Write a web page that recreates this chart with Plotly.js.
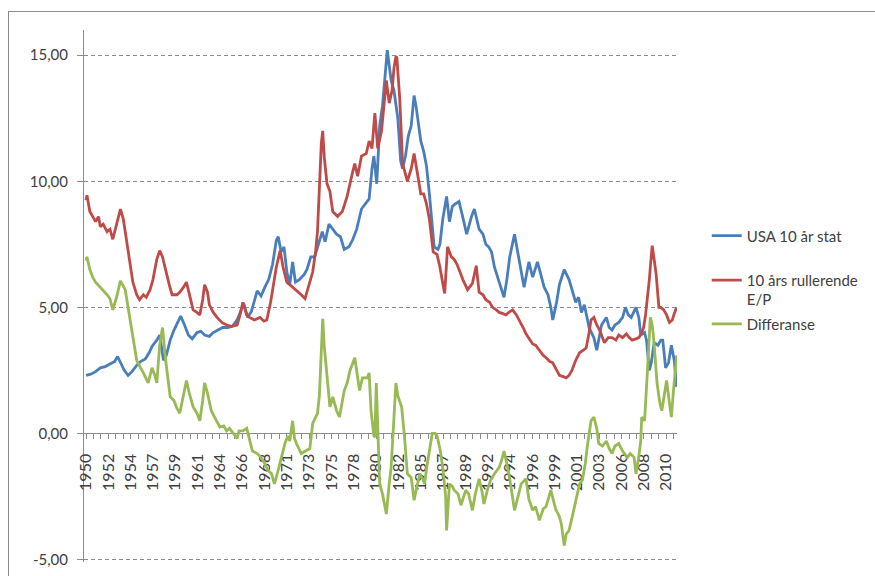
<!DOCTYPE html>
<html>
<head>
<meta charset="utf-8">
<script src="https://cdn.plot.ly/plotly-3.0.1.min.js"></script>
<style>
  html, body { margin: 0; padding: 0; background: #fff; }
  #wrap { position: relative; width: 875px; height: 576px; overflow: hidden; }
  #chart { position: absolute; left: 0; top: 0; width: 875px; height: 576px; }
  #frame { position: absolute; left: 8px; top: 11px; width: 900px; height: 600px;
           border: 1px solid #8c8c8c; box-sizing: border-box; pointer-events: none; }
</style>
</head>
<body>
<div id="wrap">
  <div id="chart"></div>
  <div id="frame"></div>
</div>
<script>
// ---- Data ----
const seriesNames = ["USA 10 år stat", "10 års rullerende<br>E/P", "Differanse"];

const usaYears = [1950.0,1950.5,1951.0,1951.5,1952.0,1952.5,1953.0,1953.3,1953.6,1954.0,1954.4,1954.8,1955.3,1955.7,1956.2,1956.6,1956.9,1957.4,1957.7,1957.9,1958.1,1958.4,1958.8,1959.2,1959.6,1959.9,1960.3,1960.7,1961.1,1961.6,1962.0,1962.4,1962.9,1963.3,1963.8,1964.3,1964.8,1965.3,1965.8,1966.2,1966.5,1966.9,1967.3,1967.9,1968.3,1968.7,1969.1,1969.5,1969.9,1970.1,1970.4,1970.7,1971.0,1971.3,1971.6,1971.9,1972.3,1972.8,1973.1,1973.5,1973.9,1974.3,1974.7,1975.0,1975.4,1975.8,1976.2,1976.6,1977.0,1977.5,1977.9,1978.3,1978.8,1979.2,1979.6,1979.9,1980.1,1980.4,1980.7,1981.0,1981.2,1981.5,1981.7,1981.9,1982.2,1982.6,1982.9,1983.1,1983.4,1983.7,1984.0,1984.3,1984.5,1984.8,1985.0,1985.3,1985.6,1985.9,1986.1,1986.4,1986.8,1987.0,1987.3,1987.7,1988.0,1988.3,1988.6,1989.0,1989.5,1989.8,1990.3,1990.6,1991.1,1991.5,1991.8,1992.1,1992.4,1992.7,1993.2,1993.7,1994.0,1994.3,1994.8,1995.3,1995.8,1996.3,1996.7,1997.2,1997.9,1998.3,1998.6,1998.8,1999.2,1999.5,2000.0,2000.5,2000.9,2001.2,2001.5,2001.8,2002.1,2002.6,2003.1,2003.4,2003.9,2004.4,2004.7,2005.0,2005.3,2005.7,2006.1,2006.4,2006.7,2007.0,2007.5,2007.8,2008.0,2008.4,2008.6,2008.9,2009.1,2009.4,2009.8,2010.1,2010.3,2010.6,2010.9,2011.2,2011.5,2011.75];
const usaValues = [2.30,2.35,2.45,2.60,2.65,2.75,2.85,3.05,2.80,2.50,2.30,2.45,2.70,2.85,2.95,3.20,3.45,3.70,3.90,3.30,2.90,3.10,3.70,4.10,4.45,4.65,4.30,3.90,3.75,4.00,4.05,3.90,3.85,4.00,4.10,4.20,4.20,4.25,4.50,4.85,5.15,4.60,4.85,5.65,5.45,5.80,6.10,6.70,7.65,7.80,7.20,7.40,6.40,5.90,6.80,6.00,6.10,6.30,6.50,7.00,7.00,7.50,8.00,7.60,8.30,8.10,7.90,7.80,7.30,7.40,7.70,8.10,8.90,9.10,9.30,10.50,11.00,9.90,12.20,13.00,13.80,15.20,14.60,14.00,13.60,12.50,10.80,10.50,11.00,11.80,12.20,13.40,13.00,12.20,11.60,11.20,10.60,9.50,8.60,7.40,7.30,7.50,8.50,9.40,8.40,9.00,9.10,9.20,8.40,7.90,8.60,8.90,8.10,7.90,7.50,7.40,7.20,6.60,6.00,5.40,6.10,7.00,7.90,6.90,5.80,6.80,6.20,6.80,5.80,5.50,5.00,4.50,5.20,5.90,6.50,6.10,5.60,5.20,5.40,4.80,5.10,4.20,3.80,3.30,4.30,4.60,4.20,4.10,4.30,4.40,4.60,5.00,4.70,4.60,5.00,4.60,3.90,4.00,3.70,2.50,2.80,3.60,3.50,3.70,3.70,2.60,2.80,3.50,2.90,1.85];

const epYears = [1950.0,1950.1,1950.4,1950.7,1951.0,1951.3,1951.5,1951.8,1952.2,1952.5,1952.8,1953.2,1953.6,1953.9,1954.1,1954.5,1954.9,1955.3,1955.6,1956.0,1956.3,1956.7,1957.0,1957.4,1957.7,1958.0,1958.3,1958.7,1959.0,1959.5,1959.8,1960.2,1960.5,1960.8,1961.2,1961.6,1961.9,1962.2,1962.4,1962.7,1962.9,1963.3,1963.7,1964.2,1964.7,1965.2,1965.8,1966.1,1966.4,1966.8,1967.1,1967.6,1968.2,1968.6,1968.9,1969.3,1969.5,1969.9,1970.3,1970.6,1971.0,1971.3,1971.6,1972.0,1972.5,1972.9,1973.3,1973.7,1974.0,1974.2,1974.5,1974.6,1974.75,1974.9,1975.2,1975.5,1975.8,1976.3,1976.8,1977.3,1977.9,1978.1,1978.4,1978.8,1979.3,1979.6,1979.9,1980.2,1980.5,1980.9,1981.2,1981.4,1981.7,1982.0,1982.2,1982.4,1982.5,1982.8,1983.1,1983.6,1984.0,1984.3,1984.7,1985.0,1985.3,1985.6,1985.9,1986.1,1986.3,1986.7,1987.0,1987.3,1987.5,1987.8,1988.2,1988.5,1988.8,1989.1,1989.4,1989.9,1990.4,1990.8,1991.1,1991.5,1991.8,1992.2,1992.5,1992.9,1993.2,1993.6,1993.9,1994.2,1994.6,1995.0,1995.3,1995.7,1996.0,1996.4,1996.7,1997.0,1997.4,1997.8,1998.1,1998.5,1998.8,1999.2,1999.5,1999.9,2000.2,2000.5,2000.8,2001.2,2001.6,2002.0,2002.3,2002.6,2002.8,2003.1,2003.4,2003.7,2004.2,2004.6,2005.0,2005.4,2005.7,2006.1,2006.5,2006.8,2007.1,2007.5,2007.8,2008.1,2008.3,2008.5,2008.7,2008.9,2009.0,2009.2,2009.4,2009.6,2009.9,2010.1,2010.4,2010.7,2011.0,2011.3,2011.5,2011.75];
const epValues = [9.25,9.45,8.80,8.60,8.40,8.60,8.20,8.30,8.00,8.10,7.70,8.30,8.90,8.50,8.00,7.00,6.00,5.50,5.30,5.50,5.40,5.70,6.10,6.90,7.25,7.00,6.50,5.90,5.50,5.50,5.60,5.80,6.00,5.50,4.90,4.80,4.70,5.30,5.90,5.60,5.10,4.80,4.60,4.40,4.30,4.25,4.30,4.70,5.20,4.70,4.60,4.50,4.60,4.45,4.50,5.20,5.70,6.60,7.25,6.60,6.00,5.90,5.80,5.70,5.50,5.35,5.90,6.40,7.20,8.00,10.60,11.50,12.00,11.00,9.90,9.60,8.80,8.60,8.80,9.40,10.40,10.70,10.20,11.00,11.10,11.60,11.30,12.70,11.30,12.00,13.20,14.00,13.10,13.60,14.50,14.95,14.90,13.30,10.70,10.00,10.50,11.10,10.20,9.50,9.50,9.10,8.50,7.90,7.20,7.10,6.60,5.95,5.55,7.40,7.00,6.90,6.70,6.40,6.10,5.70,5.95,6.65,5.60,5.50,5.30,5.20,5.00,4.90,4.80,4.75,4.70,4.80,4.90,4.70,4.50,4.20,3.95,3.70,3.55,3.50,3.30,3.10,3.00,2.85,2.80,2.50,2.30,2.25,2.20,2.30,2.50,2.90,3.20,3.30,3.40,4.00,4.50,4.60,4.30,4.10,3.60,3.80,3.80,3.70,3.90,3.80,3.95,3.80,3.70,3.75,3.80,4.00,4.20,4.70,5.30,6.10,6.60,7.45,6.90,6.35,5.00,5.00,4.90,4.70,4.40,4.50,4.75,5.00];

const diffYears = [1950.0,1950.1,1950.4,1950.7,1951.0,1951.5,1951.8,1952.2,1952.5,1952.8,1953.2,1953.6,1954.1,1954.6,1955.0,1955.3,1955.7,1956.0,1956.5,1956.9,1957.2,1957.4,1957.7,1957.9,1958.0,1958.3,1958.8,1959.2,1959.5,1959.8,1960.2,1960.5,1960.8,1961.2,1961.6,1961.9,1962.2,1962.4,1962.7,1963.1,1963.5,1964.0,1964.4,1964.7,1965.0,1965.4,1965.8,1966.0,1966.4,1966.8,1967.1,1967.4,1967.9,1968.3,1968.7,1969.0,1969.4,1969.7,1970.0,1970.3,1970.6,1970.8,1971.1,1971.3,1971.6,1971.8,1972.0,1972.5,1973.0,1973.4,1973.7,1974.2,1974.4,1974.6,1974.75,1974.9,1975.2,1975.5,1975.8,1976.2,1976.5,1977.0,1977.3,1977.6,1978.1,1978.4,1978.6,1978.9,1979.4,1979.6,1979.8,1980.1,1980.2,1980.35,1980.5,1980.7,1981.0,1981.4,1981.7,1981.9,1982.2,1982.4,1982.6,1983.0,1983.3,1983.6,1984.0,1984.3,1984.6,1984.9,1985.2,1985.4,1985.6,1985.9,1986.2,1986.5,1986.7,1987.0,1987.3,1987.6,1987.7,1988.0,1988.3,1988.5,1988.9,1989.2,1989.7,1990.0,1990.4,1990.7,1991.1,1991.4,1991.6,1992.0,1992.3,1992.7,1993.2,1993.5,1993.7,1994.0,1994.3,1994.8,1995.2,1995.5,1996.0,1996.3,1996.7,1997.0,1997.4,1997.8,1998.1,1998.6,1999.1,1999.5,1999.7,2000.0,2000.2,2000.5,2000.9,2001.2,2001.6,2001.9,2002.2,2002.4,2002.8,2003.1,2003.4,2003.6,2004.0,2004.4,2004.7,2005.0,2005.3,2005.7,2006.1,2006.6,2006.9,2007.3,2007.5,2007.8,2008.0,2008.1,2008.4,2008.7,2009.0,2009.2,2009.4,2009.7,2010.0,2010.2,2010.5,2010.7,2011.0,2011.2,2011.4,2011.6,2011.75];
const diffValues = [6.85,7.00,6.50,6.20,6.00,5.80,5.65,5.50,5.35,4.90,5.40,6.05,5.70,4.50,3.50,2.90,2.60,2.40,2.00,2.60,2.30,2.00,3.50,4.10,4.20,3.00,1.45,1.30,1.00,0.80,1.60,2.10,1.60,1.05,0.80,0.50,1.30,2.00,1.60,0.90,0.60,0.25,0.30,0.10,0.20,0.00,-0.20,0.10,0.10,0.20,-0.30,-0.70,-0.80,-0.95,-1.20,-1.45,-1.60,-2.00,-1.60,-1.20,-0.70,-0.40,-0.10,-0.30,0.50,-0.20,-0.40,-0.80,-0.70,-0.60,0.40,0.80,1.50,3.40,4.55,3.50,2.20,1.05,1.45,0.90,0.65,1.70,2.00,2.50,3.00,2.30,1.70,2.20,2.20,2.40,0.90,-0.10,-0.15,2.00,0.50,-2.00,-2.40,-3.20,-2.00,-1.35,0.65,2.00,1.50,1.05,-0.15,-1.60,-1.75,-2.65,-2.10,-1.60,-1.80,-2.00,-1.40,-0.70,0.00,0.00,-0.10,-0.60,-1.35,-2.50,-3.85,-2.00,-2.10,-2.25,-2.40,-2.85,-2.25,-2.40,-3.05,-2.40,-1.80,-2.30,-2.80,-2.20,-1.85,-1.60,-1.35,-1.00,-0.70,-1.20,-1.80,-3.05,-2.40,-2.00,-1.80,-2.60,-3.05,-2.90,-3.45,-3.00,-2.90,-2.25,-3.00,-3.30,-3.60,-4.45,-4.00,-3.85,-3.20,-2.65,-2.00,-1.85,-1.20,-0.55,0.50,0.65,0.20,-0.40,-0.50,-0.30,-0.60,-0.80,-0.50,-0.40,-0.70,-0.95,-0.80,-0.95,-1.60,-0.90,-0.30,0.65,0.50,2.50,4.60,4.30,3.55,2.00,1.20,0.90,1.60,2.10,1.20,0.65,1.60,2.60,3.10];

const xTickPositions = [1950,1952.333,1954.667,1957,1959.333,1961.667,1964,1966.333,1968.667,1971,1973.333,1975.667,1978,1980.333,1982.667,1985,1987.333,1989.667,1992,1994.333,1996.667,1999,2001.333,2003.667,2006,2008.333,2010.667];
const xTickLabels = ["1950","1952","1954","1957","1959","1961","1964","1966","1968","1971","1973","1975","1978","1980","1982","1985","1987","1989","1992","1994","1996","1999","2001","2003","2006","2008","2010"];
const yTickValues = [-5, 0, 5, 10, 15];
const yTickLabels = ["-5,00", "0,00", "5,00", "10,00", "15,00"];

// ---- Styles ----
const colors = ["#4a7ebb", "#be4b48", "#98b954"];
const FONT = "Lato, 'Liberation Sans', sans-serif";
const TXT = "#404040";
const AXIS = "#8c8c8c";

const traces = [
  {x: usaYears, y: usaValues, name: seriesNames[0], legend: "legend"},
  {x: epYears, y: epValues, name: seriesNames[1], legend: "legend"},
  {x: diffYears, y: diffValues, name: seriesNames[2], legend: "legend2"}
].map((t, i) => Object.assign(t, {
  type: "scatter", mode: "lines",
  line: {color: colors[i], width: 2.8},
  legendgroup: "g" + i,
  hoverinfo: "skip"
}));

const Y_MIN = -5.1, Y_MAX = 16;
const legendFont = {family: FONT, size: 15, color: TXT};
const layout = {
  width: 875, height: 576,
  margin: {l: 84, r: 197, t: 30, b: 14},
  paper_bgcolor: "#fff", plot_bgcolor: "rgba(0,0,0,0)",
  font: {family: FONT, size: 15, color: TXT},
  showlegend: true,
  legend: {
    x: 1.0484, xanchor: "left", y: 0.644, yanchor: "top",
    font: legendFont, tracegroupgap: 22, valign: "top", bgcolor: "rgba(0,0,0,0)"
  },
  legend2: {
    x: 1.0484, xanchor: "left", y: 0.478, yanchor: "top",
    font: legendFont, valign: "top", bgcolor: "rgba(0,0,0,0)"
  },
  xaxis: {
    range: [1949.79, 2011.79],
    anchor: "free", position: (0 - Y_MIN) / (Y_MAX - Y_MIN),
    showline: true, linecolor: AXIS, linewidth: 1,
    layer: "below traces",
    showgrid: false, zeroline: false,
    tickmode: "array", tickvals: xTickPositions, ticktext: xTickLabels,
    tickangle: -90, ticks: "outside", ticklen: 5, tickcolor: AXIS,
    ticklabelstandoff: 8,
    tickfont: {family: FONT, size: 16, color: TXT},
    minor: {tickmode: "linear", tick0: 1950, dtick: 28 / 36, ticks: "outside", ticklen: 5, tickcolor: AXIS, showgrid: false}
  },
  yaxis: {
    range: [Y_MIN, Y_MAX],
    showline: true, linecolor: AXIS, linewidth: 1,
    layer: "below traces",
    tickmode: "array", tickvals: yTickValues, ticktext: yTickLabels,
    ticks: "outside", ticklen: 6, tickcolor: AXIS,
    ticklabelstandoff: 6,
    showgrid: true, gridcolor: "#8c8c8c", gridwidth: 1, griddash: "4px,3px",
    zeroline: false,
    tickfont: {family: FONT, size: 15, color: TXT}
  }
};

Plotly.newPlot("chart", traces, layout, {staticPlot: true, displayModeBar: false});
</script>
</body>
</html>
